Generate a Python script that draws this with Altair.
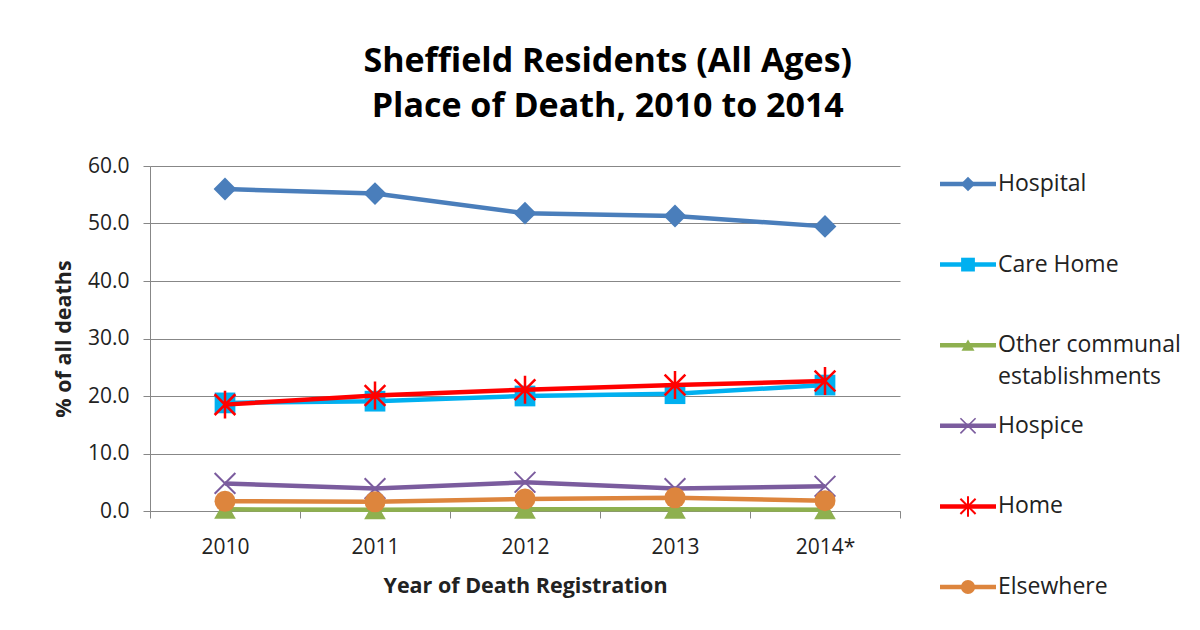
import altair as alt
import pandas as pd

# ---- data ----
years = ["2010", "2011", "2012", "2013", "2014*"]
series = ["Hospital", "Care Home", "Other communal establishments",
          "Hospice", "Home", "Elsewhere"]
hospital = [56.0, 55.2, 51.8, 51.3, 49.5]
care_home = [18.8, 19.1, 20.0, 20.4, 21.9]
other_communal = [0.3, 0.2, 0.3, 0.3, 0.2]
hospice = [4.8, 3.9, 5.0, 3.9, 4.3]
home = [18.5, 20.1, 21.1, 21.9, 22.6]
elsewhere = [1.7, 1.6, 2.1, 2.3, 1.8]
values = [hospital, care_home, other_communal, hospice, home, elsewhere]

# ---- styles ----
colors = ["#4A7EBB", "#00B0F0", "#8EB04F", "#7B5C9E", "#FF0000", "#DD853D"]
X_PATH = "M-1,-1L1,1M-1,1L1,-1"
STAR_PATH = "M-1,-1L1,1M-1,1L1,-1M0,-1.35L0,1.35"
shapes = ["diamond", "square", "triangle-up", X_PATH, STAR_PATH, "circle"]
filled = [True, True, True, False, False, True]
sizes = [520, 430, 470, 430, 430, 440]
leg_sizes = [210, 190, 170, 230, 230, 200]
stroke_w = [1, 1, 1, 2, 2.5, 1]
FONT = "Open Sans"
TXT = "#222222"
GRID = "#878787"

rows = []
for s, vals in zip(series, values):
    for y, v in zip(years, vals):
        rows.append({"series": s, "year": y, "pct": v})
df = pd.DataFrame(rows)

x_enc = alt.X(
    "year:N", sort=years,
    scale=alt.Scale(type="band", paddingInner=0, paddingOuter=0),
    axis=alt.Axis(title="Year of Death Registration", labelAngle=0,
                  tickBand="extent", grid=False, tickSize=7,
                  tickColor=GRID, domainColor=GRID, labelFontSize=21,
                  labelPadding=18, labelColor=TXT, titleFontSize=21.5,
                  titleFontWeight="bold", titleColor=TXT, titlePadding=18,
                  labelFont=FONT, titleFont=FONT),
)
y_enc = alt.Y(
    "pct:Q",
    scale=alt.Scale(domain=[0, 60], nice=False),
    axis=alt.Axis(title="% of all deaths", values=[0, 10, 20, 30, 40, 50, 60],
                  format=".1f", grid=True, gridColor=GRID, gridWidth=1,
                  tickSize=7, tickColor=GRID, domainColor=GRID,
                  labelFontSize=21, labelPadding=14, labelColor=TXT,
                  titleFontSize=21.5, titleFontWeight="bold", titleColor=TXT,
                  titlePadding=12, labelFont=FONT, titleFont=FONT),
)

main_layers = []
for i, s in enumerate(series):
    base = alt.Chart(df).transform_filter(alt.datum.series == s)
    main_layers.append(
        base.mark_line(color=colors[i], strokeWidth=4.5).encode(x=x_enc, y=y_enc)
    )
    main_layers.append(
        base.mark_point(color=colors[i], shape=shapes[i], size=sizes[i],
                        filled=filled[i], strokeWidth=stroke_w[i], opacity=1)
        .encode(x=x_enc, y=y_enc)
    )
main = alt.layer(*main_layers).properties(width=750, height=345)

# ---- custom legend (line + marker symbols) ----
first_lines, second_lines = [], []
for s in series:
    if s == "Other communal establishments":
        first_lines.append("Other communal")
        second_lines.append("establishments")
    else:
        first_lines.append(s)
        second_lines.append("")
leg_df = pd.DataFrame({"series": series, "idx": list(range(len(series))),
                       "l1": first_lines, "l2": second_lines})

LEG_H = 440
ROW = 80.6
FIRST = 18.0
d0 = -FIRST / ROW
d1 = d0 + LEG_H / ROW
ly = alt.Y("idx:Q", scale=alt.Scale(domain=[d0, d1], reverse=True, nice=False,
                                     zero=False), axis=None)

leg_layers = []
for i, s in enumerate(series):
    b = alt.Chart(leg_df).transform_filter(alt.datum.series == s)
    leg_layers.append(b.mark_rule(color=colors[i], strokeWidth=4.5).encode(
        x=alt.value(0), x2=alt.value(56), y=ly))
    leg_layers.append(b.mark_point(color=colors[i], shape=shapes[i],
                                   size=leg_sizes[i], filled=filled[i],
                                   strokeWidth=stroke_w[i] * 0.8, opacity=1)
                      .encode(x=alt.value(28), y=ly))
leg_text1 = alt.Chart(leg_df).mark_text(
    align="left", baseline="middle", fontSize=23, font=FONT, color=TXT
).encode(x=alt.value(58), y=ly, text="l1:N")
leg_text2 = alt.Chart(leg_df).mark_text(
    align="left", baseline="middle", fontSize=23, font=FONT, color=TXT, dy=32
).encode(x=alt.value(58), y=ly, text="l2:N")
legend = alt.layer(*leg_layers, leg_text1, leg_text2).properties(
    width=250, height=LEG_H)

chart = (
    alt.hconcat(main, legend, spacing=36)
    .properties(
        title=alt.TitleParams(
            ["Sheffield Residents (All Ages)", "Place of Death, 2010 to 2014"],
            fontSize=34, font=FONT, fontWeight="bold", color="#000000",
            anchor="middle", lineHeight=45, offset=31, dx=-14),
        padding={"left": 45, "top": 37, "right": 0, "bottom": 0},
        background="white",
    )
    .configure_view(strokeWidth=0, stroke=None)
)

chart.save("out.html", embed_options={"renderer": "svg", "actions": False})
